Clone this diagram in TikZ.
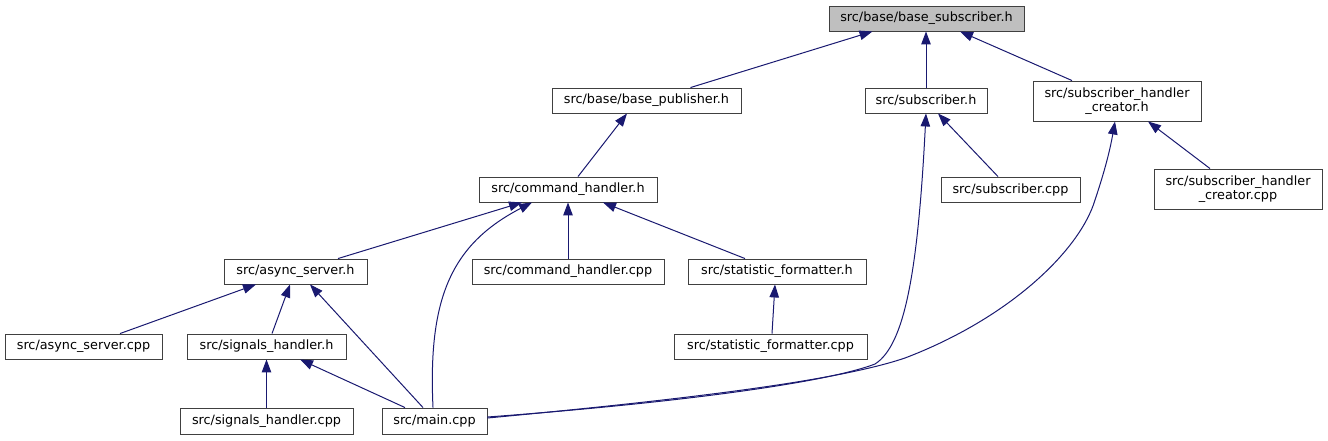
\documentclass[tikz,border=0pt]{standalone}
\usepackage{fontspec}
\setmainfont{DejaVu Sans}
\usetikzlibrary{arrows.meta,calc}
\definecolor{edgec}{HTML}{191970}
\definecolor{boxc}{HTML}{404040}
\definecolor{rootfill}{HTML}{BFBFBF}
\begin{document}
\begin{tikzpicture}[x=1pt,y=-1pt,
  file/.style={draw=boxc, line width=0.9pt, fill=white, inner sep=0pt,
    font=\fontsize{12.8}{14}\selectfont, align=center, minimum height=25pt},
  tall/.style={minimum height=40pt},
  edge/.style={draw=edgec, line width=1pt, -{Triangle[length=13pt,width=9.5pt]}}]
\useasboundingbox (0,0) rectangle (1328,440);
% nodes
\node[file, fill=rootfill, minimum width=195pt] (bsub) at (926.5,18.5) {src/base/base\_subscriber.h};
\node[file, minimum width=189pt] (bpub) at (646.5,100.5) {src/base/base\_publisher.h};
\node[file, minimum width=122pt] (subh) at (926,100.5) {src/subscriber.h};
\node[file, tall, minimum width=168pt] (shch) at (1117,101) {src/subscriber\_handler\\\_creator.h};
\node[file, minimum width=178pt] (cmdh) at (568,189.5) {src/command\_handler.h};
\node[file, minimum width=139pt] (subcpp) at (1010.5,189.5) {src/subscriber.cpp};
\node[file, tall, minimum width=168pt] (shccpp) at (1238,189) {src/subscriber\_handler\\\_creator.cpp};
\node[file, minimum width=143pt] (asyh) at (295.5,271.5) {src/async\_server.h};
\node[file, minimum width=192pt] (cmdcpp) at (568,271.5) {src/command\_handler.cpp};
\node[file, minimum width=178pt] (stfh) at (777,271.5) {src/statistic\_formatter.h};
\node[file, minimum width=157pt] (asycpp) at (83.5,346.5) {src/async\_server.cpp};
\node[file, minimum width=159pt] (sigh) at (266.5,346.5) {src/signals\_handler.h};
\node[file, minimum width=193pt] (stfcpp) at (770.5,346.5) {src/statistic\_formatter.cpp};
\node[file, minimum width=173pt, minimum height=26pt] (sigcpp) at (266.5,421) {src/signals\_handler.cpp};
\node[file, minimum width=105pt, minimum height=26pt] (main) at (434.5,421) {src/main.cpp};
% edges
\draw[edge] ([xshift=44pt]bpub.north) -- ([xshift=-54pt]bsub.south);
\draw[edge] (subh.north) -- (subh.north |- bsub.south);
\draw[edge] ([xshift=-45pt]shch.north) -- ([xshift=33.5pt]bsub.south);
\draw[edge] ([xshift=10pt]cmdh.north) -- ([xshift=-19.5pt]bpub.south);
\draw[edge] ([xshift=-12.5pt]subcpp.north) -- ([xshift=12pt]subh.south);
\draw[edge] ([yshift=4pt]main.east) .. controls (650,405) and (820,385) .. (875,364)
  .. controls (905,345) and (918,270) .. (subh.south);
\draw[edge] ([xshift=-28pt]shccpp.north) -- ([xshift=31pt]shch.south);
\draw[edge] ([yshift=3pt]main.east) .. controls (700,398) and (840,380) .. (905,358)
  .. controls (1010,318) and (1080,250) .. (1095,200)
  .. controls (1105,170) and (1110,150) .. ([xshift=-2pt]shch.south);
\draw[edge] ([xshift=42.5pt]asyh.north) -- ([xshift=-46pt]cmdh.south);
\draw[edge] ([xshift=-1.5pt]main.north) .. controls (428,300) and (450,245) .. ([xshift=-36pt]cmdh.south);
\draw[edge] (cmdcpp.north) -- (cmdh.south);
\draw[edge] ([xshift=-32pt]stfh.north) -- ([xshift=35pt]cmdh.south);
\draw[edge] ([xshift=36.5pt]asycpp.north) -- ([xshift=-39.5pt]asyh.south);
\draw[edge] ([xshift=5.5pt]sigh.north) -- ([xshift=-5.5pt]asyh.south);
\draw[edge] ([xshift=-11.5pt]main.north) -- ([xshift=14.5pt]asyh.south);
\draw[edge] (sigcpp.north) -- (sigh.south);
\draw[edge] ([xshift=-29.5pt]main.north) -- ([xshift=33.5pt]sigh.south);
\draw[edge] ([xshift=1.5pt]stfcpp.north) -- ([xshift=-2pt]stfh.south);
\end{tikzpicture}
\end{document}
